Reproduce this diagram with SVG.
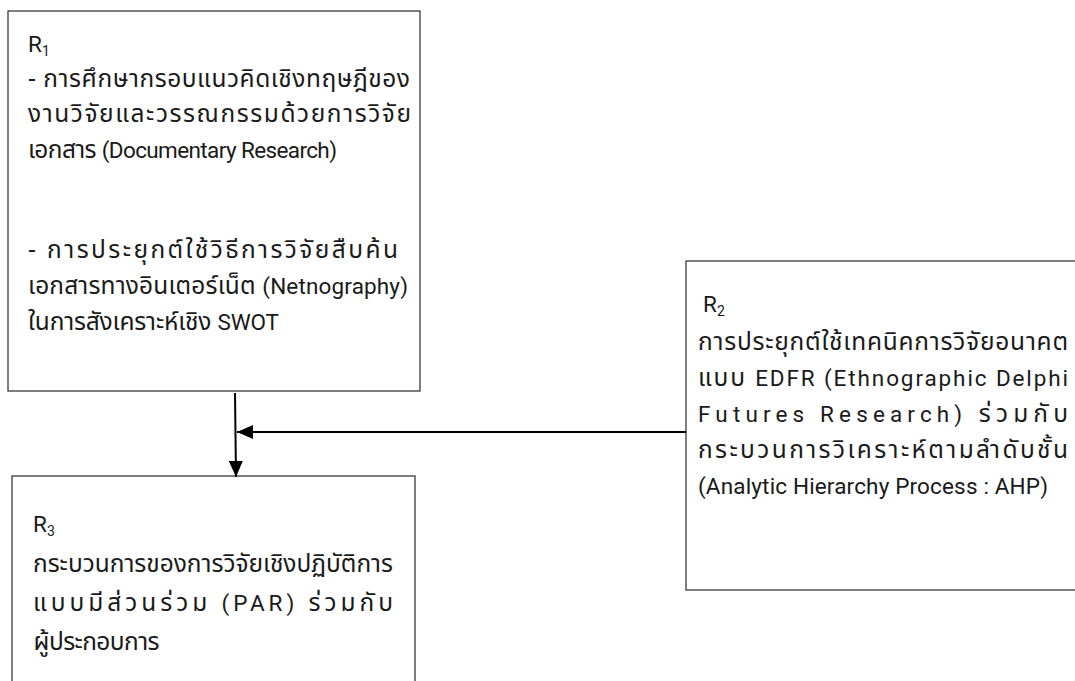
<svg xmlns="http://www.w3.org/2000/svg" width="1075" height="681" viewBox="0 0 1075 681">
<defs>
<style>
.box{fill:#fff;stroke:#3a3a3a;stroke-width:1.3}
.t{font-family:"Noto Sans Thai","Noto Sans",Roboto,sans-serif;font-size:24.5px;fill:#1a1a1a}
.en{font-family:Roboto,"Noto Sans",sans-serif;font-size:22.5px}
.r{font-family:Roboto,"Noto Sans",sans-serif;font-size:22.5px;fill:#1a1a1a}
.sub{font-size:14px}
.con{stroke:#000;stroke-width:2;fill:none}
</style>
<marker id="ah" viewBox="0 0 16 14" refX="16" refY="7" markerWidth="16" markerHeight="14" markerUnits="userSpaceOnUse" orient="auto">
<path d="M0,0 L16,7 L0,14 Z" fill="#000"/>
</marker>
</defs>
<rect width="1075" height="681" fill="#fff"/>
<g id="R1">
<rect class="box" x="8" y="11" width="412" height="380"/>
<text class="r" x="28" y="52">R<tspan class="sub" dy="4">1</tspan></text>
<text class="t" x="28" y="87" textLength="382" lengthAdjust="spacing">- การศึกษากรอบแนวคิดเชิงทฤษฎีของ</text>
<text class="t" x="28" y="122" textLength="383" lengthAdjust="spacing">งานวิจัยและวรรณกรรมด้วยการวิจัย</text>
<text class="t" x="28" y="158" textLength="309" lengthAdjust="spacing">เอกสาร <tspan class="en">(Documentary Research)</tspan></text>
<text class="t" x="28" y="258" textLength="370" lengthAdjust="spacing">- การประยุกต์ใช้วิธีการวิจัยสืบค้น</text>
<text class="t" x="28" y="294" textLength="380" lengthAdjust="spacing">เอกสารทางอินเตอร์เน็ต <tspan class="en">(Netnography)</tspan></text>
<text class="t" x="28" y="330" textLength="251" lengthAdjust="spacing">ในการสังเคราะห์เชิง <tspan class="en">SWOT</tspan></text>
</g>
<g id="R2">
<rect class="box" x="686" y="261" width="400" height="329"/>
<text class="r" x="703" y="312">R<tspan class="sub" dy="4">2</tspan></text>
<text class="t" x="698" y="350" textLength="370" lengthAdjust="spacing">การประยุกต์ใช้เทคนิคการวิจัยอนาคต</text>
<text class="t" x="698" y="386" textLength="370" lengthAdjust="spacing">แบบ <tspan class="en">EDFR (Ethnographic Delphi</tspan></text>
<text class="t" x="698" y="422" textLength="370" lengthAdjust="spacing"><tspan class="en">Futures Research)</tspan> ร่วมกับ</text>
<text class="t" x="698" y="458" textLength="370" lengthAdjust="spacing">กระบวนการวิเคราะห์ตามลำดับชั้น</text>
<text class="t en" x="698" y="494" textLength="350" lengthAdjust="spacing">(Analytic Hierarchy Process : AHP)</text>
</g>
<g id="R3">
<rect class="box" x="12" y="476" width="403" height="220"/>
<text class="r" x="33" y="532">R<tspan class="sub" dy="4">3</tspan></text>
<text class="t" x="33" y="572" textLength="360" lengthAdjust="spacing">กระบวนการของการวิจัยเชิงปฏิบัติการ</text>
<text class="t" x="33" y="611" textLength="360" lengthAdjust="spacing">แบบมีส่วนร่วม <tspan class="en">(PAR)</tspan> ร่วมกับ</text>
<text class="t" x="33" y="650" textLength="126" lengthAdjust="spacing">ผู้ประกอบการ</text>
</g>
<g id="connectors">
<line class="con" x1="235" y1="393" x2="236" y2="477" marker-end="url(#ah)"/>
<line class="con" x1="686" y1="432" x2="237" y2="432" marker-end="url(#ah)"/>
</g>
</svg>
